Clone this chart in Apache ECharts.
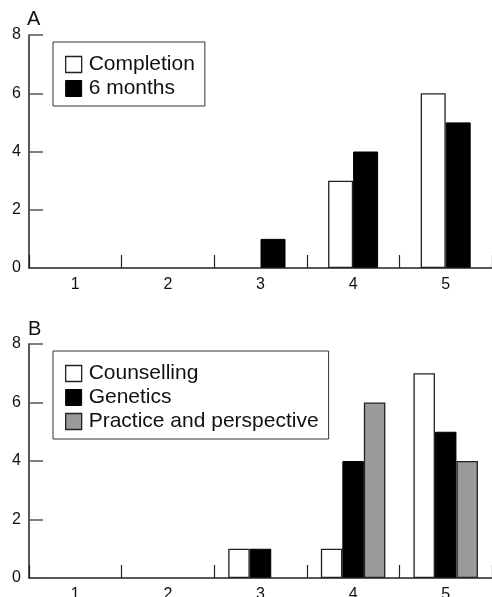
<!DOCTYPE html>
<html><head><meta charset="utf-8">
<script src="https://cdn.jsdelivr.net/npm/echarts@6/dist/echarts.min.js"></script>
<style>html,body{margin:0;padding:0;background:#fff}#c{width:492px;height:597px}</style>
</head><body><div id="c"></div>
<script>
const categories = ['1', '2', '3', '4', '5'];
const completion = [0, 0, 0, 3, 6];
const sixMonths = [0, 0, 1, 4, 5];
const counselling = [0, 0, 1, 1, 7];
const genetics = [0, 0, 1, 4, 5];
const practice = [0, 0, 0, 6, 4];
const yMin = 0, yMax = 8, yStep = 2;

const FONT = '"Liberation Sans", Arial, Helvetica, sans-serif';
const INK = '#111';
const LINE = '#222';
const WHITE = {color: '#ffffff', borderColor: LINE, borderWidth: 1.3};
const BLACK = {color: '#000000', borderColor: '#000', borderWidth: 1};
const GREY = {color: '#9a9a9a', borderColor: LINE, borderWidth: 1.3};

function xAx(i) {
  return {
    type: 'category', gridIndex: i, data: categories,
    axisLine: {show: true, lineStyle: {color: LINE, width: 1.5}},
    axisTick: {show: true, inside: true, length: 13, alignWithLabel: false, interval: 0,
               lineStyle: {color: LINE, width: 1.2}},
    axisLabel: {fontSize: 16, color: INK, margin: 9, fontFamily: FONT},
    z: 5
  };
}
function yAx(i) {
  return {
    type: 'value', gridIndex: i, min: yMin, max: yMax, interval: yStep,
    axisLine: {show: true, lineStyle: {color: LINE, width: 1.5}},
    axisTick: {show: true, inside: true, length: 14, lineStyle: {color: '#555', width: 1.5}},
    splitLine: {show: false},
    axisLabel: {fontSize: 16, color: INK, margin: 8, fontFamily: FONT},
    z: 5
  };
}
function legendBox(top, names, styles) {
  return {
    orient: 'vertical', left: 53, top: top,
    itemWidth: 16, itemHeight: 16, itemGap: 3,
    padding: [12, 10, 7, 12],
    borderColor: '#333', borderWidth: 1, borderRadius: 0,
    selectedMode: false,
    textStyle: {fontSize: 21, color: INK, fontFamily: FONT, padding: [0, 0, 0, 2]},
    data: names.map((n, k) => ({name: n, icon: 'rect', itemStyle: styles[k]}))
  };
}
function bars(arr) {
  // zero values: no outline, so nothing is drawn on the axis
  return arr.map(v => v === 0 ? {value: v, itemStyle: {borderWidth: 0}} : v);
}

const chart = echarts.init(document.getElementById('c'), null, {renderer: 'canvas'});
chart.setOption({
  animation: false,
  backgroundColor: '#fff',
  grid: [
    {left: 29, right: 0, top: 35, height: 233, outerBoundsMode: 'none', containLabel: false},
    {left: 29, right: 0, top: 344, height: 234, outerBoundsMode: 'none', containLabel: false}
  ],
  xAxis: [xAx(0), xAx(1)],
  yAxis: [yAx(0), yAx(1)],
  legend: [
    legendBox(42, ['Completion', '6 months'], [WHITE, BLACK]),
    legendBox(351, ['Counselling', 'Genetics', 'Practice and perspective'], [WHITE, BLACK, GREY])
  ],
  graphic: [
    {type: 'text', left: 27, top: 9, style: {text: 'A', font: '20px ' + FONT, fill: INK}},
    {type: 'text', left: 28, top: 319, style: {text: 'B', font: '20px ' + FONT, fill: INK}}
  ],
  series: [
    {name: 'Completion', type: 'bar', xAxisIndex: 0, yAxisIndex: 0, data: bars(completion), barWidth: 25, barGap: '0%', itemStyle: WHITE},
    {name: '6 months', type: 'bar', xAxisIndex: 0, yAxisIndex: 0, data: bars(sixMonths), barWidth: 25, barGap: '0%', itemStyle: BLACK},
    {name: 'Counselling', type: 'bar', xAxisIndex: 1, yAxisIndex: 1, data: bars(counselling), barWidth: 21.5, barGap: '0%', itemStyle: WHITE},
    {name: 'Genetics', type: 'bar', xAxisIndex: 1, yAxisIndex: 1, data: bars(genetics), barWidth: 21.5, barGap: '0%', itemStyle: BLACK},
    {name: 'Practice and perspective', type: 'bar', xAxisIndex: 1, yAxisIndex: 1, data: bars(practice), barWidth: 21.5, barGap: '0%', itemStyle: GREY}
  ]
});
</script>
</body></html>
